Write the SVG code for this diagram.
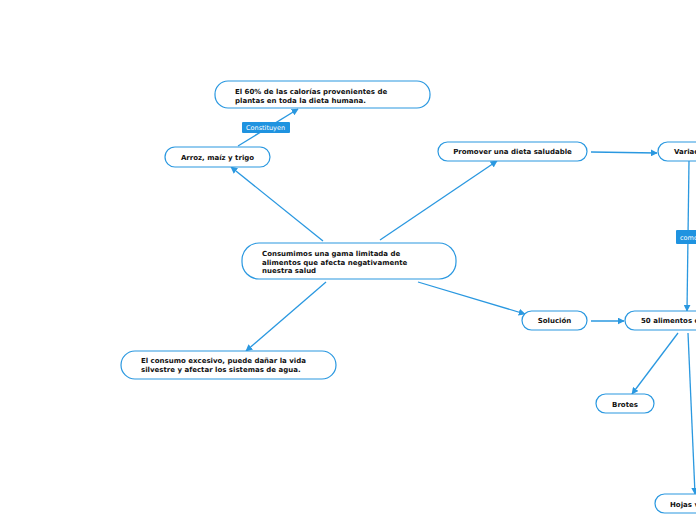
<svg xmlns="http://www.w3.org/2000/svg" width="696" height="520" viewBox="0 0 696 520">
<style>
.n{fill:#fff;stroke:#2a98e0;stroke-width:1.2}
.t{font-family:"DejaVu Sans",sans-serif;font-weight:bold;font-size:7px;fill:#111}
.c{stroke:#2a98e0;stroke-width:1.3;fill:none}
.lb{fill:#1f93e0}
.lt{font-family:"DejaVu Sans",sans-serif;font-size:6.5px;fill:#fff}
</style>
<defs>
<marker id="a" viewBox="0 0 10 10" refX="9" refY="5" markerWidth="7" markerHeight="7" markerUnits="userSpaceOnUse" orient="auto">
<path d="M0,0 L10,5 L0,10 z" fill="#2a98e0"/>
</marker>
</defs>
<g id="connectors">
<path class="c" d="M238,146 L298,109" marker-end="url(#a)"/>
<path class="c" d="M323,241 L231,167" marker-end="url(#a)"/>
<path class="c" d="M380,240 L497,161" marker-end="url(#a)"/>
<path class="c" d="M326,282 L246,351" marker-end="url(#a)"/>
<path class="c" d="M418,282 L525,314" marker-end="url(#a)"/>
<path class="c" d="M591,152 L657,153" marker-end="url(#a)"/>
<path class="c" d="M689,161 L687,311" marker-end="url(#a)"/>
<path class="c" d="M591,321 L624,321" marker-end="url(#a)"/>
<path class="c" d="M678,333 L632,394" marker-end="url(#a)"/>
<path class="c" d="M688,333 L695,494" marker-end="url(#a)"/>
<rect class="lb" x="242" y="122" width="48" height="11" rx="1"/>
<text class="lt" x="246" y="130">Constituyen</text>
<rect class="lb" x="676" y="230" width="30" height="14" rx="1"/>
<text class="lt" x="680" y="239.5">como</text>
</g>
<g id="n1"><rect class="n" x="215" y="81" width="215" height="27" rx="13"/>
<text class="t" x="235" y="94">El 60% de las calorías provenientes de</text>
<text class="t" x="235" y="102.5">plantas en toda la dieta humana.</text></g>
<g id="n2"><rect class="n" x="165" y="147" width="105" height="20" rx="10"/>
<text class="t" x="217.5" y="160" text-anchor="middle">Arroz, maíz y trigo</text></g>
<g id="n3"><rect class="n" x="242" y="243" width="214" height="36" rx="17"/>
<text class="t" x="262" y="256">Consumimos una gama limitada de</text>
<text class="t" x="262" y="264.5">alimentos que afecta negativamente</text>
<text class="t" x="262" y="273">nuestra salud</text></g>
<g id="n4"><rect class="n" x="121" y="351" width="215" height="28" rx="14"/>
<text class="t" x="141" y="363">El consumo excesivo, puede dañar la vida</text>
<text class="t" x="141" y="371.5">silvestre y afectar los sistemas de agua.</text></g>
<g id="n5"><rect class="n" x="438" y="142" width="149" height="19" rx="9.5"/>
<text class="t" x="512.5" y="154" text-anchor="middle">Promover una dieta saludable</text></g>
<g id="n6"><rect class="n" x="658" y="142" width="80" height="19" rx="9.5"/>
<text class="t" x="674" y="154">Variac</text></g>
<g id="n7"><rect class="n" x="522" y="311" width="65" height="19" rx="9.5"/>
<text class="t" x="554.5" y="323" text-anchor="middle">Solución</text></g>
<g id="n8"><rect class="n" x="625" y="311" width="110" height="19" rx="9.5"/>
<text class="t" x="641" y="323">50 alimentos c</text></g>
<g id="n9"><rect class="n" x="596" y="394" width="58" height="19" rx="9.5"/>
<text class="t" x="625" y="406.5" text-anchor="middle">Brotes</text></g>
<g id="n10"><rect class="n" x="655" y="494" width="80" height="19" rx="9.5"/>
<text class="t" x="670" y="506.5">Hojas v</text></g>
</svg>
